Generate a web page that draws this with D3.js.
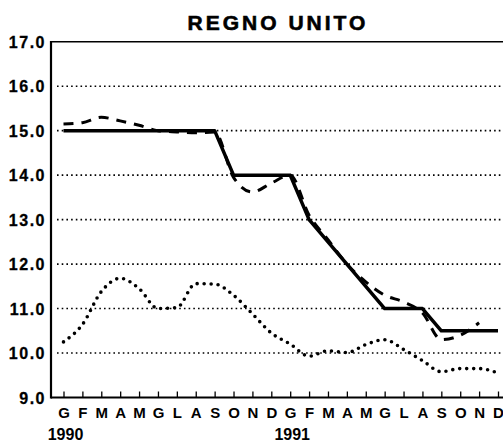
<!DOCTYPE html>
<html>
<head>
<meta charset="utf-8">
<script src="https://cdn.jsdelivr.net/npm/d3@7"></script>
<style>
  body { margin: 0; background: #fff; }
  svg { display: block; font-family: "Liberation Sans", Arial, sans-serif; }
</style>
</head>
<body>
<div class="root"></div>
<script>
var width = 503,
    height = 444;

var months = ["G","F","M","A","M","G","L","A","S","O","N","D",
              "G","F","M","A","M","G","L","A","S","O","N","D"];
var years = ["1990", "1991"];
var yearStart = [0, 12];
var yTicks = [9, 10, 11, 12, 13, 14, 15, 16, 17];

// tasso ufficiale (linea continua)
var official = [15, 15, 15, 15, 15, 15, 15, 15, 15, 14, 14, 14,
                14, 13, 12.5, 12, 11.5, 11, 11, 11, 10.5, 10.5, 10.5, 10.5];
// tasso di mercato (tratteggio), fino a novembre 1991
var market = [15.15, 15.18, 15.3, 15.22, 15.12, 15.0, 14.97, 14.95, 14.97, 13.95, 13.62, 13.82,
              14.0, 13.1, 12.55, 12.0, 11.6, 11.3, 11.15, 10.9, 10.3, 10.4, 10.68];
// inflazione (punteggiato)
var inflation = [10.25, 10.64, 11.38, 11.68, 11.45, 11.0, 11.02, 11.56, 11.55, 11.3, 10.88, 10.45,
                 10.2, 9.93, 10.05, 10.01, 10.19, 10.3, 10.08, 9.83, 9.58, 9.65, 9.65, 9.55];

var svg = d3.select(".root")
    .append("svg")
    .attr("width", width)
    .attr("height", height);

var x = d3.scaleLinear()
    .domain([0, 23])
    .range([63.5, 498]);

var y = d3.scaleLinear()
    .domain([9, 17])
    .range([397.5, 41.7]);

var left = 51, right = 503;

// titolo
svg.append("text")
    .attr("x", 278)
    .attr("y", 30)
    .attr("text-anchor", "middle")
    .attr("stroke", "#000")
    .attr("stroke-width", 0.6)
    .style("font-size", "21px")
    .style("font-weight", "bold")
    .style("letter-spacing", "3px")
    .text("REGNO UNITO");

// griglia punteggiata
svg.append("g")
  .selectAll("line")
  .data(yTicks.filter(d => d > 9 && d < 17))
  .enter().append("line")
    .attr("x1", left + 6)
    .attr("x2", right)
    .attr("y1", d => y(d))
    .attr("y2", d => y(d))
    .attr("stroke", "#000")
    .attr("stroke-width", 1.6)
    .attr("stroke-dasharray", "1.6,3.1");

// bordo superiore e assi
svg.append("line")
    .attr("x1", left).attr("x2", right)
    .attr("y1", y(17)).attr("y2", y(17))
    .attr("stroke", "#000").attr("stroke-width", 1.6);

svg.append("line")
    .attr("x1", left).attr("x2", left)
    .attr("y1", y(17) - 0.8).attr("y2", y(9) + 1)
    .attr("stroke", "#000").attr("stroke-width", 2.2);

var yAxis = svg.append("g")
    .attr("transform", "translate(" + (left - 6) + ",0)")
    .call(d3.axisLeft(y).tickValues(yTicks).tickFormat(d3.format(".1f")).tickSize(0).tickPadding(0));
yAxis.select(".domain").remove();
yAxis.selectAll("text")
    .attr("dy", "0.36em")
    .attr("x", 1)
    .attr("stroke", "#000")
    .attr("stroke-width", 0.3)
    .style("font-size", "16px")
    .style("font-weight", "bold")
    .style("letter-spacing", "1.5px")
    .style("font-family", "'Liberation Sans', Arial, sans-serif")
    .attr("fill", "#000");

var xAxis = svg.append("g")
    .attr("transform", "translate(0," + y(9) + ")")
    .call(d3.axisBottom(x).tickValues(d3.range(24)).tickSize(-6).tickPadding(10)
          .tickFormat((d, i) => months[i]));
xAxis.select(".domain")
    .attr("d", "M" + left + ",0H" + right)
    .attr("stroke-width", 2.2);
xAxis.selectAll(".tick line").attr("stroke-width", 1.3);
xAxis.selectAll("text")
    .style("font-size", "15px")
    .style("font-weight", "bold")
    .style("font-family", "'Liberation Sans', Arial, sans-serif")
    .attr("fill", "#000");

svg.append("g")
  .selectAll("text")
  .data(years)
  .enter().append("text")
    .attr("x", (d, i) => x(yearStart[i]) + 2)
    .attr("y", 440)
    .attr("text-anchor", "middle")
    .style("font-size", "16px")
    .style("font-weight", "bold")
    .text(d => d);

// serie
var lineStraight = d3.line()
    .x((d, i) => x(i))
    .y(d => y(d));

var lineSmooth = d3.line()
    .x((d, i) => x(i))
    .y(d => y(d))
    .curve(d3.curveMonotoneX);

svg.append("path")
    .datum(inflation)
    .attr("d", lineSmooth)
    .attr("fill", "none")
    .attr("stroke", "#000")
    .attr("stroke-width", 3.6)
    .attr("stroke-linecap", "round")
    .attr("stroke-dasharray", "0,7");

svg.append("path")
    .datum(market)
    .attr("d", lineSmooth)
    .attr("fill", "none")
    .attr("stroke", "#000")
    .attr("stroke-width", 3)
    .attr("stroke-dasharray", "10,8");

svg.append("path")
    .datum(official)
    .attr("d", lineStraight)
    .attr("fill", "none")
    .attr("stroke", "#000")
    .attr("stroke-width", 3.5)
    .attr("stroke-linejoin", "round");
</script>
</body>
</html>
